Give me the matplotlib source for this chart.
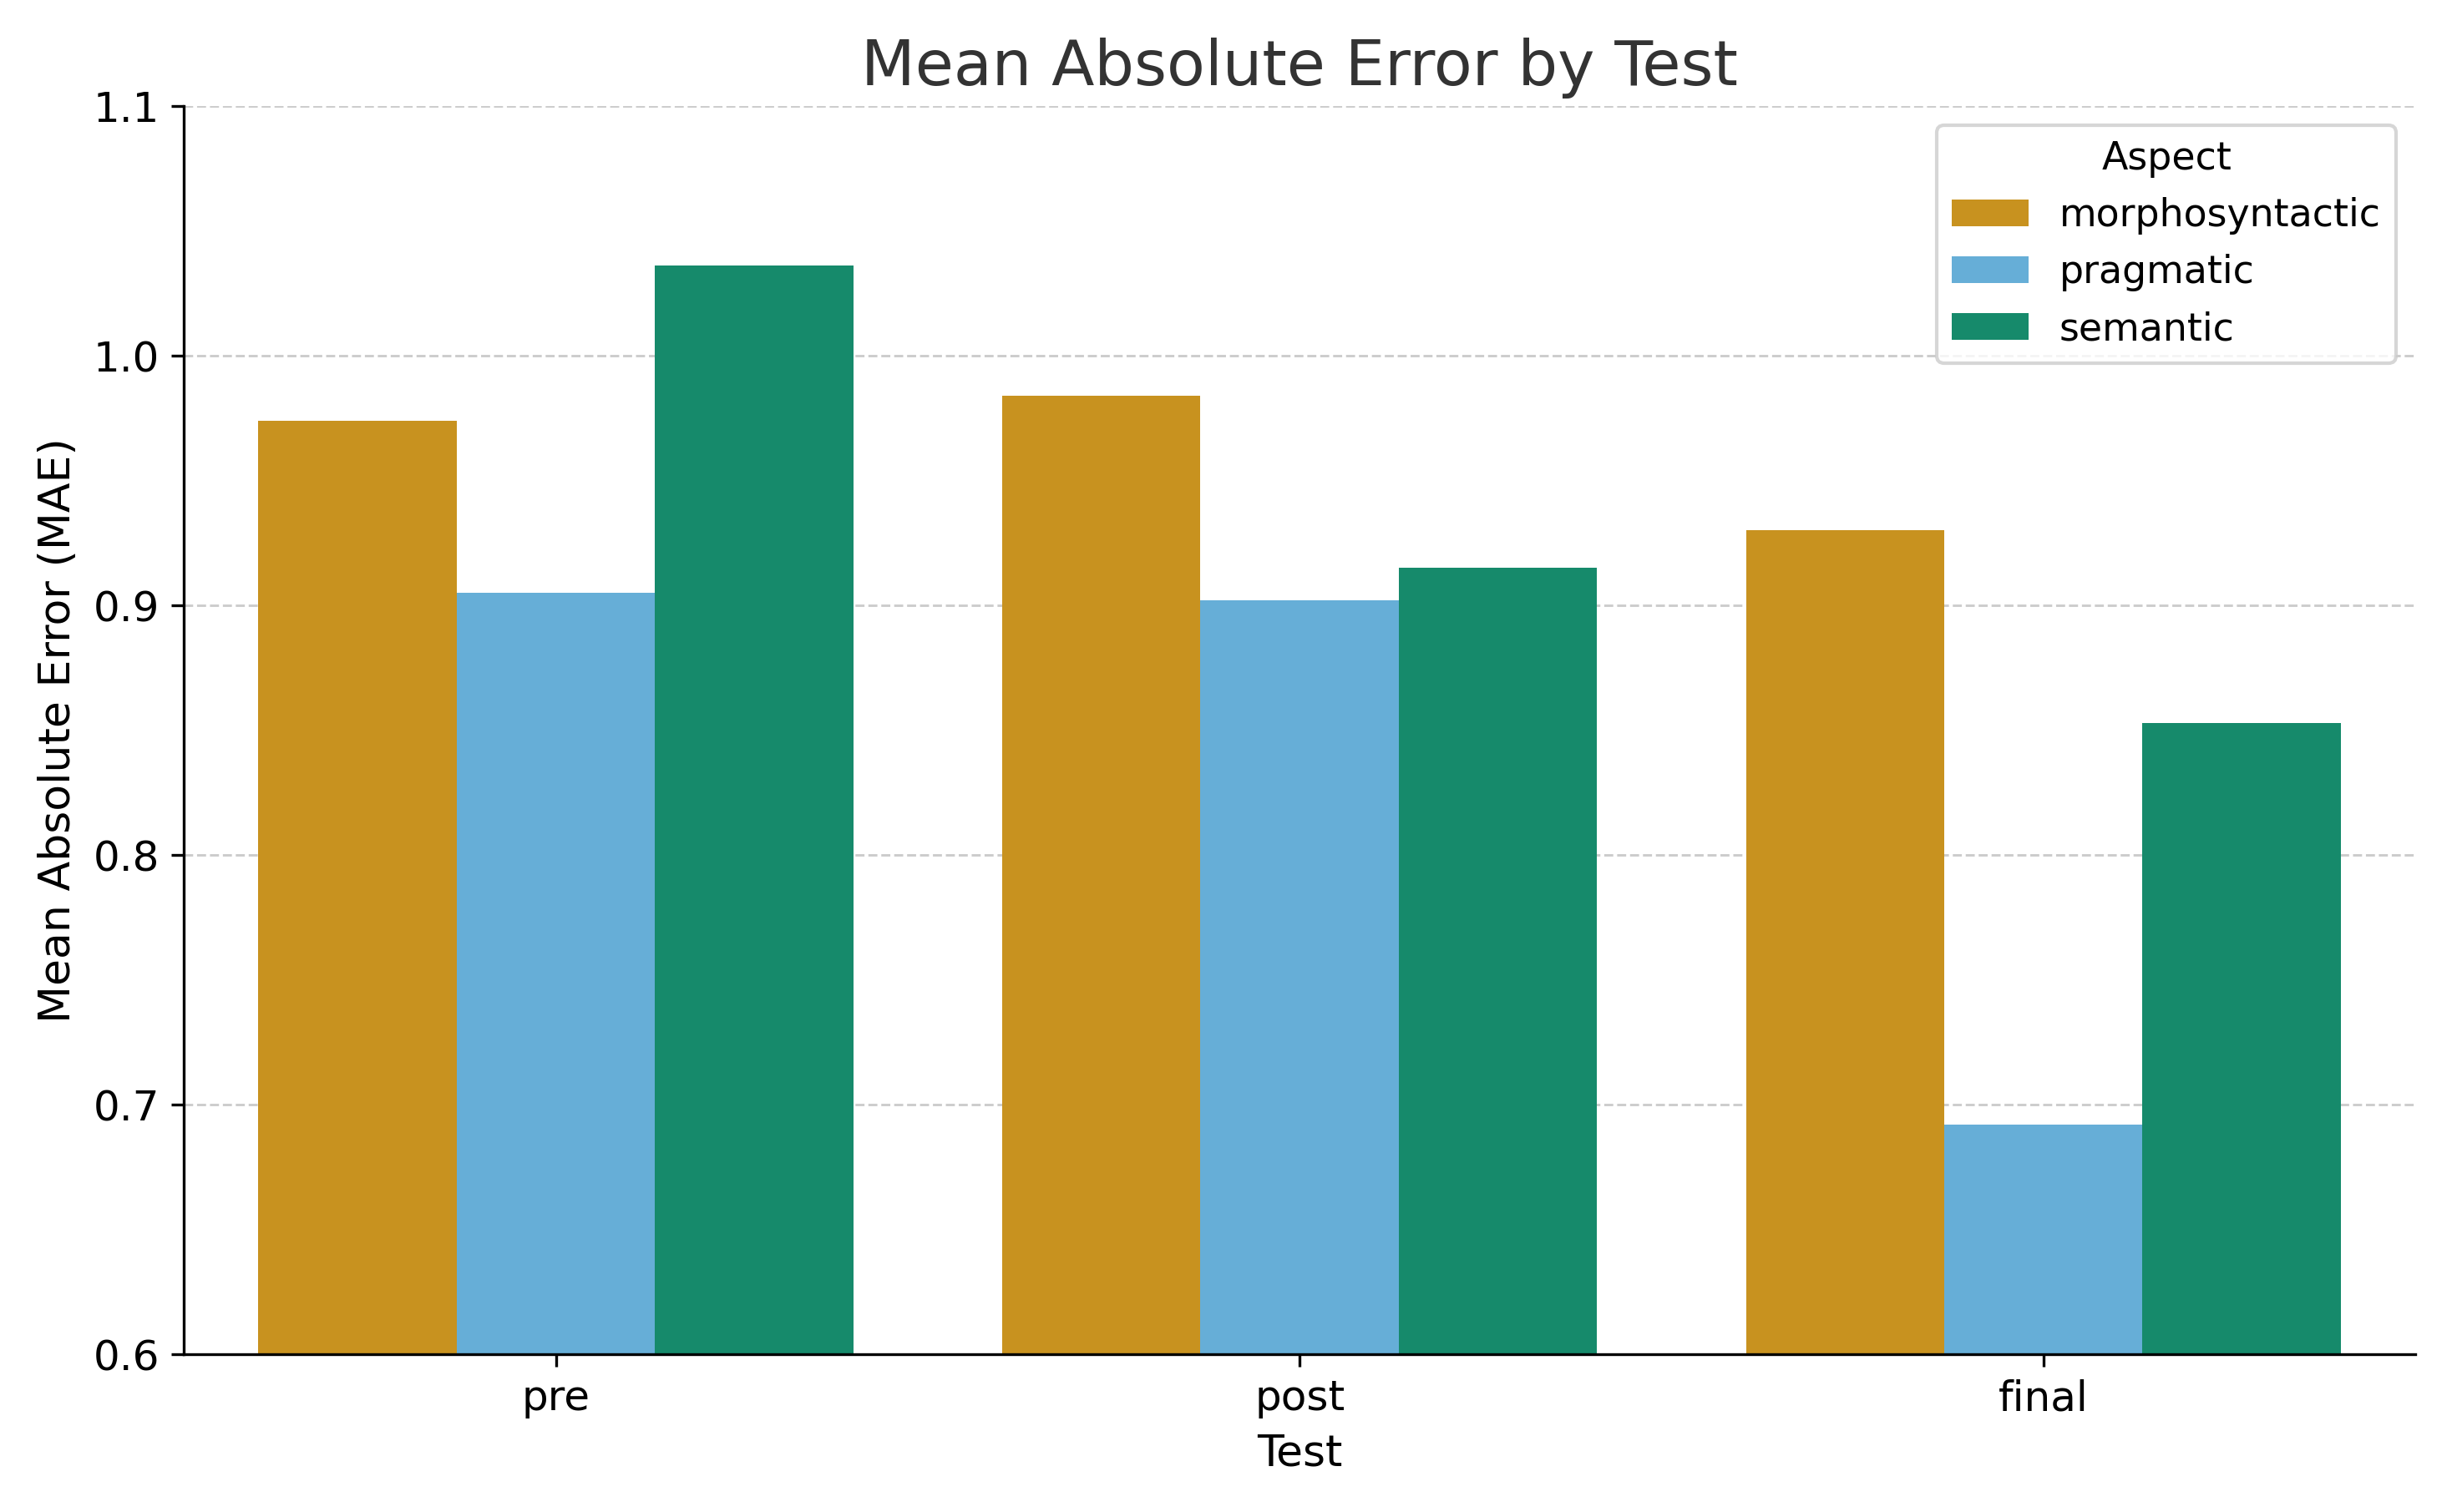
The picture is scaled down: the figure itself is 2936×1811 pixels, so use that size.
import matplotlib
matplotlib.use("Agg")
import matplotlib.pyplot as plt
import numpy as np

tests = ["pre", "post", "final"]
aspects = ["morphosyntactic", "pragmatic", "semantic"]
morpho = [0.974, 0.984, 0.930]
pragmatic = [0.905, 0.902, 0.692]
semantic = [1.036, 0.915, 0.853]
colors = ["#C8921F", "#66AED7", "#168A6B"]

fig, ax = plt.subplots(figsize=(9.79, 6.037), dpi=300)
x = np.arange(len(tests))
w = 0.8 / 3
for i, (vals, name) in enumerate(zip([morpho, pragmatic, semantic], aspects)):
    ax.bar(x + (i - 1) * w, vals, width=w, color=colors[i], label=name, zorder=2)

ax.set_ylim(0.6, 1.1)
ax.set_xlim(-0.5, 2.5)
ax.set_xticks(x)
ax.set_xticklabels(tests, fontsize=12)
ax.set_yticks([0.6, 0.7, 0.8, 0.9, 1.0, 1.1])
ax.tick_params(axis="y", labelsize=12)
ax.yaxis.grid(True, linestyle="--", color="#cccccc", linewidth=0.7, zorder=0)
ax.set_axisbelow(True)
for s in ["top", "right"]:
    ax.spines[s].set_visible(False)
ax.set_title("Mean Absolute Error by Test", fontsize=18, color="#333333")
ax.set_xlabel("Test", fontsize=12.5)
ax.set_ylabel("Mean Absolute Error (MAE)", fontsize=12.5)
leg = ax.legend(title="Aspect", fontsize=11, title_fontsize=11, loc="upper right",
                framealpha=0.8, edgecolor="#cccccc")
fig.tight_layout()
fig.savefig("out.png", dpi=300)
